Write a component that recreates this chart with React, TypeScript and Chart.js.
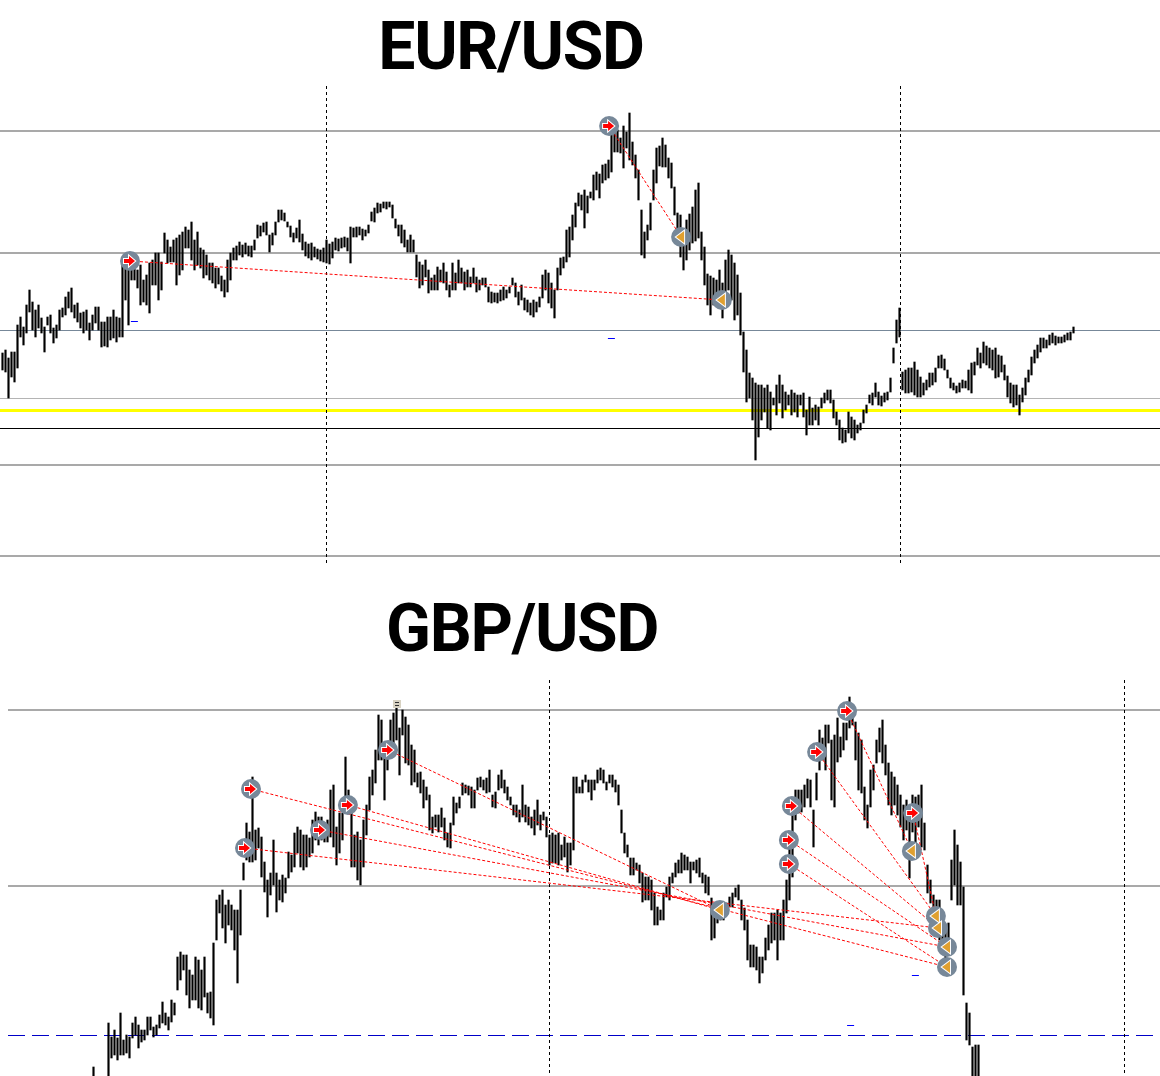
import React, { useEffect, useRef } from "react";
import { Chart, registerables } from "chart.js";
Chart.register(...registerables);

// ---------- EUR/USD : bar highs / lows in pips above 1.1000 ----------
const eurHigh = [
  228,231,223,229,229,256,264,254,276,291,
  279,271,276,263,254,264,266,253,256,271,
  273,284,289,293,276,278,268,269,271,258,
  266,274,274,259,259,264,264,271,264,263,
  318,320,321,323,321,311,316,301,306,318,
  321,328,328,319,348,341,334,341,343,346,
  349,354,351,359,341,349,333,331,326,318,
  318,313,313,305,301,321,328,333,335,339,
  336,338,335,335,341,356,355,358,359,346,
  348,359,371,371,368,359,355,348,353,361,
  347,339,337,338,334,332,331,333,341,337,
  339,343,342,343,344,343,354,353,354,354,
  352,351,356,369,373,378,377,379,379,379,
  376,362,356,356,351,341,346,341,326,319,
  316,321,311,303,306,314,311,318,309,296,
  318,308,321,313,309,311,304,313,304,301,
  303,303,294,289,288,288,291,294,291,294,
  303,298,289,296,283,281,278,281,279,284,
  306,311,308,298,291,313,323,324,351,354,
  366,378,388,386,391,385,389,406,409,407,
  416,417,421,459,454,451,443,455,449,468,
  439,426,411,371,349,356,378,411,433,435,
  443,436,423,418,394,368,366,347,361,367,
  374,391,398,349,334,307,305,303,301,311,
  298,321,331,326,318,306,288,249,231,208,
  203,198,196,196,193,196,189,183,196,206,
  196,189,186,191,188,186,186,188,171,184,
  173,176,174,183,188,191,191,181,169,161,
  153,151,169,164,161,156,158,171,176,186,
  188,198,189,185,188,189,203,233,261,273,
  209,211,213,213,219,211,204,198,201,208,
  208,213,225,226,222,211,203,198,195,198,
  201,200,211,218,219,233,228,239,235,233,
  231,233,226,225,216,205,198,196,196,186,
  193,203,211,224,231,236,243,243,241,246,
  248,245,244,244,246,248,249,254,
];
const eurLow = [
  211,209,183,204,199,213,244,236,248,269,
  251,244,253,248,229,256,248,238,243,251,
  264,266,273,269,263,259,253,248,251,241,
  251,258,251,234,235,234,241,243,239,244,
  244,281,256,301,301,293,276,279,276,268,
  296,296,281,291,328,318,319,319,296,306,
  311,333,333,321,311,316,313,303,306,301,
  298,293,297,290,284,289,301,321,321,326,
  324,327,325,324,331,343,345,349,346,329,
  336,346,359,361,360,354,344,339,343,339,
  331,325,323,321,324,322,320,319,318,317,
  323,331,330,333,334,330,318,344,344,346,
  341,345,348,360,359,368,369,373,372,374,
  363,353,345,338,334,329,329,329,304,293,
  296,304,288,291,291,291,299,298,291,284,
  291,291,298,298,291,294,294,298,289,291,
  296,294,279,278,279,278,280,281,283,288,
  296,284,276,281,271,269,266,264,269,274,
  283,291,278,273,263,291,306,313,319,324,
  341,354,375,371,353,368,383,381,391,383,
  398,401,403,409,429,429,428,413,433,421,
  416,403,381,326,323,341,351,381,398,415,
  414,414,403,393,366,345,324,311,321,331,
  338,340,343,321,296,276,266,276,276,279,
  263,281,291,281,261,266,246,209,179,183,
  161,121,144,161,169,153,151,176,166,178,
  163,171,176,166,169,164,176,164,146,156,
  156,161,156,173,178,181,178,163,156,141,
  138,139,148,143,141,148,151,158,168,178,
  176,184,176,175,179,181,189,218,238,244,
  191,188,188,189,186,184,184,186,191,194,
  196,199,213,213,211,203,193,191,188,189,
  193,193,191,188,206,216,213,218,216,213,
  211,203,204,209,201,184,178,174,176,166,
  179,186,199,206,218,223,229,233,233,236,
  238,236,238,238,239,241,241,248,
];
const eurBase = 1.1;
const eurLevelPips = [450, 328, 251, 183, 171, 153, 116, 25];
const eurVLines = [107.8, 299.2];
const eurEntries = [[42.5, 320], [202.2, 455]];
const eurExits = [[226.2, 344], [239.8, 281]];
const eurLinks = [[0, 1], [1, 0]];
const eurMarks = [[43.8, 260], [202.8, 243]];

// ---------- GBP/USD : bar highs / lows in pips above 1.2000 ----------
const gbpHigh = [
  643,630,625,630,632,687,673,680,672,697,
  670,675,673,687,693,685,680,680,693,693,
  683,685,695,708,697,693,710,707,753,758,
  755,755,740,735,753,750,740,753,717,718,
  767,810,815,820,805,810,805,800,800,820,
  847,887,878,933,880,882,873,848,830,837,
  870,837,830,835,832,858,855,877,883,880,
  875,875,872,890,898,893,893,887,890,920,
  925,883,897,897,953,920,900,875,878,870,
  890,905,933,940,960,995,990,960,962,990,
  997,1003,982,1000,993,985,965,960,937,938,
  930,923,915,893,895,895,902,892,877,887,
  913,907,913,927,925,924,923,920,932,933,
  930,932,940,915,918,935,940,930,923,913,
  905,905,900,925,905,903,893,900,910,895,
  898,893,875,877,875,877,865,873,867,867,
  933,933,923,930,935,930,930,930,940,942,
  940,928,935,935,930,925,900,877,865,852,
  852,847,845,837,833,833,830,817,803,800,
  817,823,833,837,847,850,857,855,853,848,
  848,850,852,837,835,833,812,800,803,800,
  803,807,813,817,822,825,810,802,790,765,
  765,763,753,753,772,785,797,797,800,797,
  810,830,865,902,920,920,920,925,931,930,
  900,937,980,972,985,985,970,975,992,973,
  987,987,1013,1000,988,977,970,923,905,940,
  945,970,982,990,965,947,938,933,925,915,
  905,910,900,915,913,915,925,887,845,830,
  815,810,810,797,780,787,850,880,865,848,
  823,707,697,663,665,665,
];
const gbpLow = [
  620,610,610,610,615,630,652,655,650,655,
  655,657,652,672,675,662,668,670,675,680,
  673,675,682,687,685,680,688,695,720,730,
  740,715,702,710,710,702,700,713,697,692,
  685,770,797,782,767,785,780,760,727,775,
  830,850,848,848,850,862,833,818,793,815,
  825,798,810,808,817,832,838,843,857,843,
  840,843,853,857,870,865,870,868,868,873,
  863,845,857,870,897,900,843,843,830,825,
  843,875,900,915,927,950,950,910,940,962,
  967,970,935,975,947,945,925,928,923,917,
  902,910,880,877,883,878,883,870,863,862,
  885,897,902,915,917,915,902,902,920,923,
  920,917,918,903,902,920,922,917,910,905,
  895,893,888,893,888,885,882,875,885,880,
  890,873,845,847,847,845,850,853,838,845,
  860,917,917,917,928,918,910,920,927,930,
  927,920,927,923,918,905,877,857,853,835,
  835,840,827,808,810,810,800,785,785,790,
  790,813,810,827,833,837,837,840,840,827,
  840,837,833,827,817,815,770,772,787,790,
  790,795,803,803,813,810,790,780,750,743,
  743,740,727,737,750,760,767,770,750,770,
  770,797,810,833,890,897,898,903,912,903,
  863,910,940,950,940,967,910,903,948,953,
  960,970,982,985,950,920,917,890,882,903,
  920,947,958,947,935,905,895,905,895,883,
  870,880,832,878,865,883,863,860,817,807,
  798,790,770,770,740,757,810,825,805,805,
  715,670,665,630,630,630,
];
const gbpBase = 1.2;
const gbpLevelPips = [1000, 824, 675];
const gbpVLines = [151.8, 343.5];
const gbpEntries = [
  [50.5, 862], [52.5, 921], [75.5, 880], [84.8, 905], [98.2, 960],
  [231.8, 846], [231.8, 870], [232.8, 904], [241.2, 958], [251.2, 999], [273.2, 897],
];
const gbpExits = [
  [208.8, 800], [272.8, 859], [280.8, 794], [281.5, 782], [284.5, 763], [284.5, 743],
];
const gbpLinks = [
  [0, 3], [1, 5], [2, 4], [3, 0], [4, 0], [5, 5], [6, 4], [7, 3], [8, 2], [9, 1], [10, 2],
];
const gbpMarks = [[273.8, 735], [252.2, 685]];
const gbpIcon = [101.2, 1006];

type LevelStyle = { color: string; width: number; dash?: number[] };
const eurLevelStyles: LevelStyle[] = [
  { color: "#a9a9a9", width: 2 },
  { color: "#a9a9a9", width: 2 },
  { color: "#778899", width: 1 },
  { color: "#b4b4b4", width: 1 },
  { color: "#ffff00", width: 3 },
  { color: "#000000", width: 1 },
  { color: "#a9a9a9", width: 2 },
  { color: "#a9a9a9", width: 2 },
];
const gbpLevelStyles: LevelStyle[] = [
  { color: "#a9a9a9", width: 2 },
  { color: "#a9a9a9", width: 2 },
  { color: "#0000c8", width: 1, dash: [17, 7] },
];

type Spec = {
  base: number;
  high: number[];
  low: number[];
  levels: number[];
  levelStyles: LevelStyle[];
  vlines: number[];
  vTop: number;
  vBottom: number;
  entries: number[][];
  exits: number[][];
  links: number[][];
  marks: number[][];
  icon?: number[];
  xMin: number;
  xMax: number;
  yMinPips: number;
  yMaxPips: number;
};

function drawEntryGlyph(ctx: CanvasRenderingContext2D, x: number, y: number) {
  ctx.beginPath();
  ctx.moveTo(x - 6, y - 2);
  ctx.lineTo(x - 1, y - 2);
  ctx.lineTo(x - 1, y - 5);
  ctx.lineTo(x + 5, y);
  ctx.lineTo(x - 1, y + 5);
  ctx.lineTo(x - 1, y + 2);
  ctx.lineTo(x - 6, y + 2);
  ctx.closePath();
  ctx.strokeStyle = "#ffffff";
  ctx.lineWidth = 2;
  ctx.setLineDash([]);
  ctx.stroke();
  ctx.fillStyle = "#ff0000";
  ctx.fill();
}

function drawExitGlyph(ctx: CanvasRenderingContext2D, x: number, y: number) {
  ctx.beginPath();
  ctx.moveTo(x - 5, y);
  ctx.lineTo(x + 3, y - 6);
  ctx.lineTo(x + 3, y + 6);
  ctx.closePath();
  ctx.strokeStyle = "#ffffff";
  ctx.lineWidth = 2;
  ctx.setLineDash([]);
  ctx.stroke();
  ctx.fillStyle = "#e0a030";
  ctx.fill();
}

function makeOverlay(spec: Spec) {
  const price = (p: number) => spec.base + p / 10000;
  return {
    id: "overlay",
    beforeDatasetsDraw(chart: any) {
      const { ctx, chartArea } = chart;
      const xs = chart.scales.x;
      const ys = chart.scales.y;
      ctx.save();
      spec.levels.forEach((lv, i) => {
        const st = spec.levelStyles[i];
        let py = Math.round(ys.getPixelForValue(price(lv)));
        if (st.width % 2 === 1) py += 0.5;
        ctx.beginPath();
        ctx.strokeStyle = st.color;
        ctx.lineWidth = st.width;
        ctx.setLineDash(st.dash || []);
        ctx.moveTo(chartArea.left, py);
        ctx.lineTo(chartArea.right, py);
        ctx.stroke();
      });
      spec.vlines.forEach((v) => {
        const px = Math.round(xs.getPixelForValue(v)) + 0.5;
        ctx.beginPath();
        ctx.strokeStyle = "#000000";
        ctx.lineWidth = 1;
        ctx.setLineDash([3, 3]);
        ctx.moveTo(px, ys.getPixelForValue(price(spec.vTop)));
        ctx.lineTo(px, ys.getPixelForValue(price(spec.vBottom)));
        ctx.stroke();
      });
      ctx.restore();
    },
    afterDatasetsDraw(chart: any) {
      const { ctx } = chart;
      const xs = chart.scales.x;
      const ys = chart.scales.y;
      const pt = (a: number[]) => [xs.getPixelForValue(a[0]), ys.getPixelForValue(price(a[1]))];
      ctx.save();
      ctx.strokeStyle = "#ff0000";
      ctx.lineWidth = 1;
      ctx.setLineDash([3, 2]);
      spec.links.forEach(([e, x]) => {
        const a = pt(spec.entries[e]);
        const b = pt(spec.exits[x]);
        ctx.beginPath();
        ctx.moveTo(a[0], a[1]);
        ctx.lineTo(b[0], b[1]);
        ctx.stroke();
      });
      ctx.setLineDash([]);
      ctx.strokeStyle = "#0000ff";
      ctx.lineWidth = 1;
      spec.marks.forEach((m) => {
        const [mx, my] = pt(m);
        const yy = Math.round(my) + 0.5;
        ctx.beginPath();
        ctx.moveTo(mx - 3, yy);
        ctx.lineTo(mx + 4, yy);
        ctx.stroke();
      });
      ctx.fillStyle = "#778899";
      [...spec.entries, ...spec.exits].forEach((m) => {
        const [mx, my] = pt(m);
        ctx.beginPath();
        ctx.arc(mx, my, 10, 0, Math.PI * 2);
        ctx.fill();
      });
      spec.entries.forEach((m) => {
        const [mx, my] = pt(m);
        drawEntryGlyph(ctx, mx, my);
      });
      spec.exits.forEach((m) => {
        const [mx, my] = pt(m);
        drawExitGlyph(ctx, mx, my);
      });
      if (spec.icon) {
        const [ix, iy] = pt(spec.icon);
        ctx.fillStyle = "#d8d2c2";
        ctx.fillRect(Math.round(ix) - 4, Math.round(iy) - 4, 8, 8);
        ctx.fillStyle = "#303030";
        ctx.fillRect(Math.round(ix) - 2, Math.round(iy) - 2, 4, 1);
        ctx.fillRect(Math.round(ix) - 2, Math.round(iy) + 1, 4, 1);
      }
      ctx.restore();
    },
  };
}

function buildChart(canvas: HTMLCanvasElement, spec: Spec) {
  const bars = spec.high.map((h, i) => ({
    x: i,
    y: [spec.base + spec.low[i] / 10000, spec.base + h / 10000],
  }));
  return new Chart(canvas, {
    type: "bar",
    data: {
      datasets: [
        {
          data: bars as any,
          backgroundColor: "#000000",
          borderWidth: 0,
          barThickness: 1.5,
          borderSkipped: false,
        } as any,
      ],
    },
    options: {
      animation: false,
      responsive: false,
      devicePixelRatio: 1,
      events: [],
      layout: { padding: 0 },
      scales: {
        x: {
          type: "linear",
          min: spec.xMin,
          max: spec.xMax,
          offset: false,
          grid: { offset: false },
          display: false,
        },
        y: {
          type: "linear",
          min: spec.base + spec.yMinPips / 10000,
          max: spec.base + spec.yMaxPips / 10000,
          display: false,
        },
      },
      plugins: { legend: { display: false }, tooltip: { enabled: false } },
    } as any,
    plugins: [makeOverlay(spec) as any],
  });
}

const eurSpec: Spec = {
  base: eurBase,
  high: eurHigh,
  low: eurLow,
  levels: eurLevelPips,
  levelStyles: eurLevelStyles,
  vlines: eurVLines,
  vTop: 495,
  vBottom: 18,
  entries: eurEntries,
  exits: eurExits,
  links: eurLinks,
  marks: eurMarks,
  xMin: -2.5 / 3,
  xMax: -2.5 / 3 + 1160 / 3,
  yMinPips: 11,
  yMaxPips: 501,
};

const gbpSpec: Spec = {
  base: gbpBase,
  high: gbpHigh,
  low: gbpLow,
  levels: gbpLevelPips,
  levelStyles: gbpLevelStyles,
  vlines: gbpVLines,
  vTop: 1030,
  vBottom: 634,
  entries: gbpEntries,
  exits: gbpExits,
  links: gbpLinks,
  marks: gbpMarks,
  icon: gbpIcon,
  xMin: -28.5,
  xMax: 355.5,
  yMinPips: 634,
  yMaxPips: 1034,
};

const titleStyle: React.CSSProperties = {
  position: "absolute",
  fontFamily: "Roboto, 'DejaVu Sans', sans-serif",
  fontWeight: 700,
  fontSize: 66,
  lineHeight: "66px",
  letterSpacing: "-1.3px",
  color: "#000",
  whiteSpace: "nowrap",
  transform: "translateX(-50%)",
};

export default function App() {
  const eurRef = useRef<HTMLCanvasElement>(null);
  const gbpRef = useRef<HTMLCanvasElement>(null);
  useEffect(() => {
    const c1 = buildChart(eurRef.current!, eurSpec);
    const c2 = buildChart(gbpRef.current!, gbpSpec);
    return () => {
      c1.destroy();
      c2.destroy();
    };
  }, []);
  return (
    <div style={{ position: "absolute", left: 0, top: 0, width: 1160, height: 1076, background: "#fff", overflow: "hidden" }}>
      <div style={{ ...titleStyle, left: 511, top: 14 }}>EUR/USD</div>
      <canvas ref={eurRef} width={1160} height={490} style={{ position: "absolute", left: 0, top: 80, width: 1160, height: 490 }} />
      <div style={{ ...titleStyle, left: 522, top: 596 }}>GBP/USD</div>
      <canvas ref={gbpRef} width={1152} height={400} style={{ position: "absolute", left: 8, top: 676, width: 1152, height: 400 }} />
    </div>
  );
}
